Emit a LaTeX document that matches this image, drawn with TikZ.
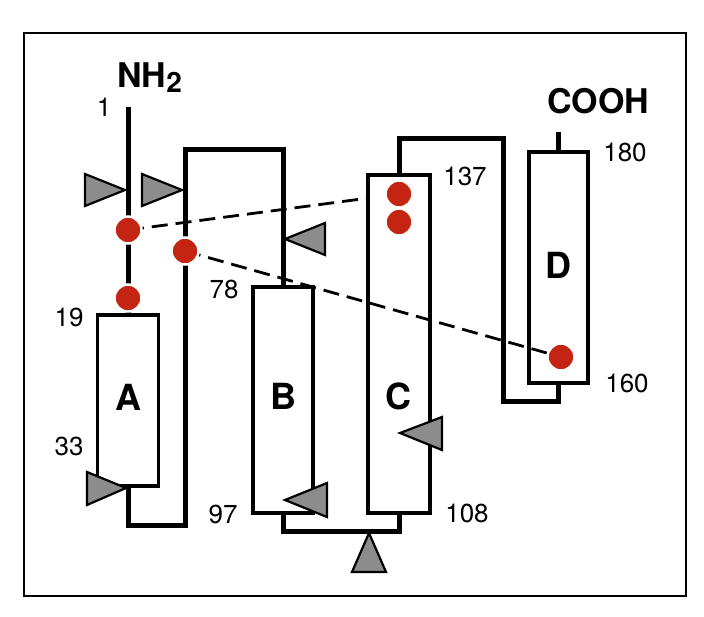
\documentclass[tikz,border=0pt]{standalone}
\usepackage{fontspec}
\setmainfont{TeX Gyre Heros}
\definecolor{cysred}{RGB}{196,36,18}

\tikzset{
  strand/.style = {draw, line width=5pt},
  helix/.style  = {shape=rectangle, draw, fill=white,
                   line width=3.2pt, inner sep=0pt},
  site/.style   = {draw, fill=black!45, line width=2.2pt},
  cys/.style    = {circle, fill=cysred, draw=white, line width=2.5pt,
                   minimum size=27pt, inner sep=0pt},
  bond/.style   = {draw, line width=2.8pt, dash pattern=on 16pt off 8pt},
  resnum/.style = {font=\fontsize{26}{26}\selectfont, inner sep=0pt},
  term/.style   = {font=\fontsize{34}{34}\selectfont\bfseries, inner sep=0pt},
  letter/.style = {font=\fontsize{36}{36}\selectfont\bfseries, inner sep=0pt}
}

\begin{document}
\begin{tikzpicture}
[
x=1pt, y=-1pt
  ]
\useasboundingbox (0,0) rectangle (704,616);
\draw[line width=2.4pt] (24,33) rectangle (686,596);

% cysteines
\coordinate (c1) at (128,230);
\coordinate (c2) at (128,298);
\coordinate (c3) at (185,251);
\coordinate (c4) at (399,194);
\coordinate (c5) at (399,222);
\coordinate (c6) at (561,357);
\coordinate (nterm) at (128,107);
\coordinate (cterm) at (558.5,132);
\coordinate (ab) at (185,149);
\coordinate (cd) at (503,138);
\coordinate (cdb) at (503,401);

\draw[bond] (c1) -- (c4);

% helices
\node[helix, minimum width=61pt, minimum height=171pt] (A) at (128,400.5) {};
\node[helix, minimum width=60pt, minimum height=226pt] (B) at (283,400) {};
\node[helix, minimum width=62pt, minimum height=338pt] (C) at (399,344) {};
\node[helix, minimum width=59pt, minimum height=231pt] (D) at (558.5,267.5) {};

\draw[strand] (nterm) -- (A.north);
\draw[strand] (A.south) -- ++(0,38) -| (ab) -| (B.north);
\draw[strand] (B.south) -- ++(0,17) -| (C.south);
\draw[strand] (C.north) |- (cd) -- (cdb) -| (D.south);
\draw[strand] (D.north) -- (cterm);

\draw[bond] (c3) -- (c6);

% sites
\draw[site] (125,190) -- ++(-40,-16) -- ++(0,32) -- cycle;
\draw[site] (182,190) -- ++(-40,-16) -- ++(0,32) -- cycle;
\draw[site] (285,239) -- ++(40,-16) -- ++(0,32) -- cycle;
\draw[site] (126,488) -- ++(-39,-16) -- ++(0,33) -- cycle;
\draw[site] (285,500) -- ++(42,-17) -- ++(0,34) -- cycle;
\draw[site] (400,433) -- ++(42,-16) -- ++(0,33) -- cycle;
\draw[site] (369,533) -- ++(-17,39) -- ++(34,0) -- cycle;

\node[cys] (cys1) at (c1) {};
\node[cys] (cys2) at (c2) {};
\node[cys] (cys3) at (c3) {};
\node[cys] (cys4) at (c4) {};
\node[cys] (cys5) at (c5) {};
\node[cys] (cys6) at (c6) {};

\node[letter] (labA) at (128,397.5) {A};
\node[letter] (labB) at (283,396) {B};
\node[letter] (labC) at (398,396.5) {C};
\node[letter] (labD) at (558.5,265) {D};

\node[term, anchor=base west] (nh2) at (117,87)
  {NH{\fontsize{28}{28}\selectfont\raisebox{-5pt}{2}}};
\node[term, anchor=base west] (cooh) at (547,113) {COOH};

\node[resnum] (r1) at (104,107) {1};
\node[resnum] (r19) at (69,317) {19};
\node[resnum] (r33) at (69,446) {33};
\node[resnum] (r78) at (224,289) {78};
\node[resnum] (r97) at (223,514) {97};
\node[resnum] (r108) at (467,513) {108};
\node[resnum] (r137) at (465,176) {137};
\node[resnum] (r180) at (625,152) {180};
\node[resnum] (r160) at (627,383) {160};
\end{tikzpicture}
\end{document}
